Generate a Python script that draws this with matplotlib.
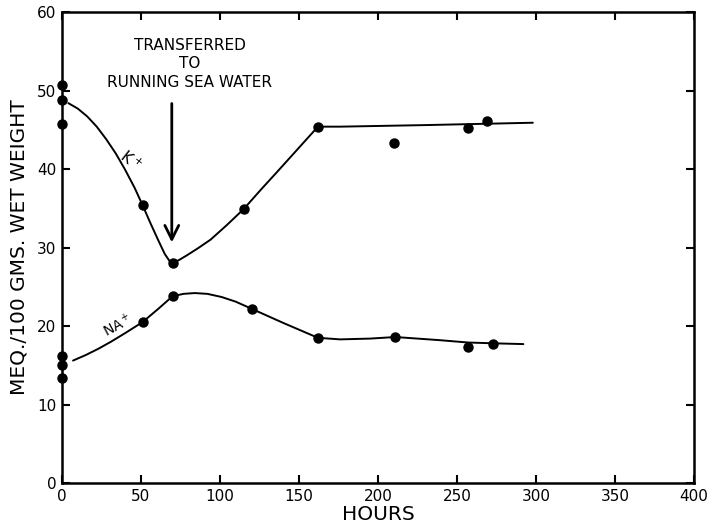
import matplotlib
matplotlib.use("Agg")
import matplotlib.pyplot as plt

# measured points (hours, meq / 100 g wet weight)
k_hours = [0, 0, 0, 51, 70, 115, 162, 210, 257, 269]
k_meq = [50.7, 48.8, 45.7, 35.4, 28.0, 34.9, 45.4, 43.3, 45.2, 46.1]
na_hours = [0, 0, 0, 51, 70, 120, 162, 211, 257, 273]
na_meq = [16.2, 15.0, 13.4, 20.5, 23.8, 22.2, 18.5, 18.6, 17.3, 17.7]

# hand-drawn trend curves
k_curve_x = [4, 10, 16, 22, 28, 34, 40, 46, 51, 56, 61, 65, 68, 70, 74, 79, 86, 94, 104,
             115, 126, 136, 149, 162, 176, 230, 298]
k_curve_y = [48.4, 47.7, 46.7, 45.4, 43.8, 42.0, 39.9, 37.6, 35.4, 33.1, 30.9, 29.2, 28.3,
             28.0, 28.4, 29.0, 29.9, 31.0, 32.8, 34.9, 37.4, 39.6, 42.5, 45.4, 45.4, 45.6, 45.9]
na_curve_x = [7, 15, 23, 31, 40, 51, 61, 70, 77, 84, 92, 101, 110, 120, 140, 162, 176,
              195, 211, 239, 257, 273, 292]
na_curve_y = [15.6, 16.3, 17.1, 18.0, 19.1, 20.5, 22.2, 23.8, 24.1, 24.2, 24.1, 23.7,
              23.1, 22.2, 20.4, 18.5, 18.3, 18.4, 18.6, 18.2, 17.9, 17.8, 17.7]

plt.rcParams["font.family"] = ["DejaVu Sans"]

fig = plt.figure(figsize=(7.14, 5.24), dpi=100)
ax = fig.add_axes([0.0868, 0.0782, 0.8852, 0.8988])

ax.plot(k_curve_x, k_curve_y, color="black", lw=1.4, solid_capstyle="round",
        solid_joinstyle="round")
ax.plot(na_curve_x, na_curve_y, color="black", lw=1.4, solid_capstyle="round",
        solid_joinstyle="round")
ax.plot(k_hours, k_meq, "o", color="black", ms=6.5, clip_on=False, zorder=5)
ax.plot(na_hours, na_meq, "o", color="black", ms=6.5, clip_on=False, zorder=5)

ax.text(43, 41.0, "K$^+$", rotation=-38, fontsize=11, ha="center", va="center")
ax.text(35, 20.1, "NA$^+$", rotation=28, fontsize=10, ha="center", va="center")

# transfer marker
ax.annotate("", xy=(69.5, 30.3), xytext=(69.5, 48.7),
            arrowprops=dict(arrowstyle="->,head_length=1.0,head_width=0.5",
                            color="black", lw=2))
ax.text(81, 53.4, "TRANSFERRED\nTO\nRUNNING SEA WATER", ha="center", va="center",
        fontsize=11, linespacing=1.3)

ax.set_xlim(0, 400)
ax.set_ylim(0, 60)
ax.set_xticks(range(0, 401, 50))
ax.set_yticks(range(0, 61, 10))
ax.tick_params(direction="in", length=6, width=1.5, labelsize=11, pad=4,
               top=True, right=True)
ax.set_xlabel("HOURS", fontsize=14.5, labelpad=1)
ax.set_ylabel("MEQ./100 GMS. WET WEIGHT", fontsize=14.5, labelpad=6)
for s in ax.spines.values():
    s.set_linewidth(1.8)

fig.savefig("out.png", dpi=100)
